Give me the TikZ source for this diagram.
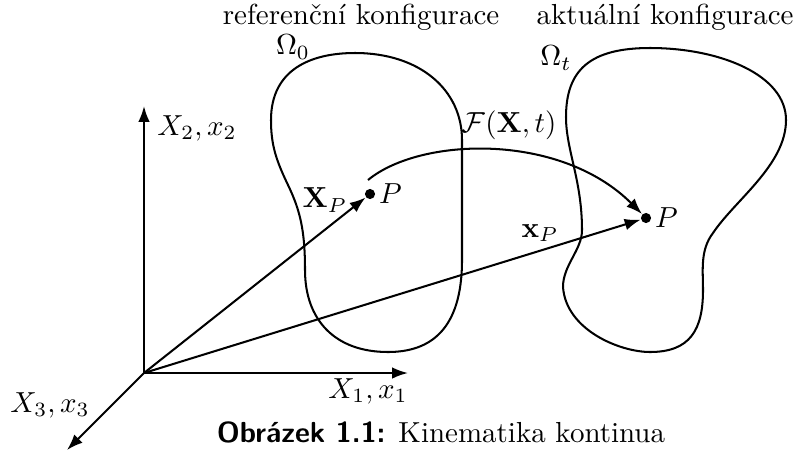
\documentclass[tikz,border=0pt]{standalone}
\usepackage{amsmath}
\usepackage{tikz}
\usetikzlibrary{arrows.meta,positioning}
\tikzset{
  ax/.style  ={line width=0.7pt, -{Latex[length=5.5pt,width=4pt]}},
  bd/.style  ={line width=0.7pt},
  dot/.style ={circle, fill=black, inner sep=0pt, minimum size=3.5pt},
  lb/.style  ={inner sep=1pt},
}

\begin{document}
\begin{tikzpicture}[x=0.345pt,y=-0.345pt]
  \useasboundingbox (0,0) rectangle (803,452);
  % axes
  \coordinate (o) at (144,373);
  \coordinate (e1) at (408,373);
  \coordinate (e2) at (144,106);
  \coordinate (e3) at (67,450);
  \draw[ax] (o) -- (e1);
  \draw[ax] (o) -- (e2);
  \draw[ax] (o) -- (e3);
  \node[lb] (l1) at (368,391) {$X_1,x_1$};
  \node[lb] (l2) at (197,128) {$X_2,x_2$};
  \node[lb] (l3) at (50,405) {$X_3,x_3$};
  % bodies
  \draw[bd] (355,53) .. controls (420,53) and (462,90) .. (462,140)
    -- (462,260) .. controls (462,330) and (430,352) .. (388,352)
    .. controls (335,352) and (305,320) .. (305,270)
    .. controls (305,230) and (300,210) .. (288,185)
    .. controls (276,160) and (271,145) .. (271,120)
    .. controls (271,70) and (310,53) .. cycle;
  \draw[bd] (650,48) .. controls (720,48) and (786,75) .. (786,120)
    .. controls (786,165) and (735,200) .. (713,233)
    .. controls (700,250) and (703,270) .. (703,290)
    .. controls (703,330) and (690,352) .. (650,352)
    .. controls (620,352) and (566,330) .. (563,287)
    .. controls (563,265) and (582,250) .. (582,230)
    .. controls (582,180) and (566,150) .. (566,117)
    .. controls (566,70) and (590,48) .. cycle;
  \node[lb] (t0) at (361,17) {referenční konfigurace};
  \node[lb] (t1) at (665,17) {aktuální konfigurace};
  \node[lb] (w0) at (293,47) {$\Omega_0$};
  \node[lb] (w1) at (556,58) {$\Omega_t$};
  % points and vectors
  \node[dot] (p1) at (370,194) {};
  \node[dot] (p2) at (646,218) {};
  \node[lb,right=0pt of p1] {$P$};
  \node[lb,right=0pt of p2] {$P$};
  \draw[ax] (o) -- (p1);
  \draw[ax] (o) -- (p2);
  \node[lb] (v1) at (325,200) {$\mathbf{X}_P$};
  \node[lb] (v2) at (540,233) {$\mathbf{x}_P$};
  \coordinate (f0) at (368,180);
  \draw[ax] (f0) .. controls (420,137) and (560,132) .. (p2);
  \node[lb] (fl) at (509,125) {$\mathcal{F}(\mathbf{X},t)$};
  \node[lb] (cap) at (441,432) {{\sffamily\bfseries Obrázek 1.1:} Kinematika kontinua};
\end{tikzpicture}
\end{document}
